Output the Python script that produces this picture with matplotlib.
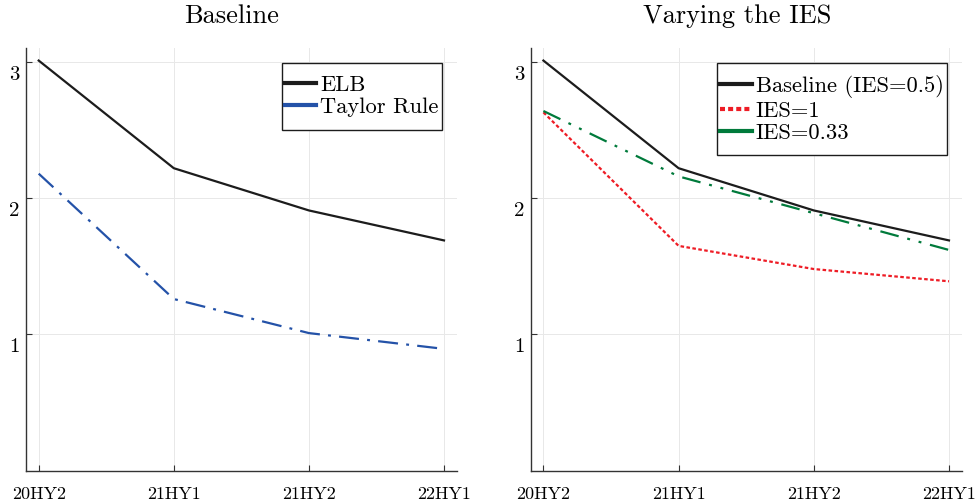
import matplotlib
matplotlib.use("Agg")
import matplotlib.pyplot as plt
import matplotlib.transforms as mtransforms
from matplotlib.lines import Line2D
from matplotlib.patches import Rectangle

plt.rcParams['font.family'] = ['cmr10', 'DejaVu Serif']
plt.rcParams['axes.formatter.use_mathtext'] = True
plt.rcParams['mathtext.fontset'] = 'cm'

periods = ["20HY2", "21HY1", "21HY2", "22HY1"]
elb = [3.01, 2.22, 1.91, 1.69]
taylor = [2.18, 1.26, 1.01, 0.894]
baseline_ies = [3.01, 2.22, 1.91, 1.69]
ies_1 = [2.63, 1.65, 1.48, 1.39]
ies_033 = [2.64, 2.16, 1.89, 1.62]
yticks = [1, 2, 3]

BLACK = "#1c1c1c"
BLUE = "#2452a8"
RED = "#ee1c25"
GREEN = "#007a3b"

fig = plt.figure(figsize=(9.76, 5.04), dpi=100)
W, H = 976, 504
def add_ax(l, r, t, b):
    return fig.add_axes([l / W, 1 - b / H, (r - l) / W, (b - t) / H])

ax1 = add_ax(26, 456.7, 48.3, 470.7)
ax2 = add_ax(530.7, 961.7, 48.3, 470.7)

x = list(range(1, len(periods) + 1))
DASHDOT = (9, 3.7, 1.3, 3.7)
DASHDOTDOT = (8.5, 4, 1.3, 4, 1.3, 4)

ax1.plot(x, elb, color=BLACK, lw=1.6)
ax1.plot(x, taylor, color=BLUE, lw=1.6, dashes=DASHDOT)

ax2.plot(x, baseline_ies, color=BLACK, lw=1.6)
ax2.plot(x, ies_1, color=RED, lw=1.6, dashes=(1.6, 1.1))
ax2.plot(x, ies_033, color=GREEN, lw=1.6, dashes=DASHDOTDOT)

def style(ax, title, title_x):
    ax.set_xlim(0.906, 4.094)
    ax.set_ylim(0, 3.1)
    ax.set_xticks(x)
    ax.set_xticklabels(periods, fontsize=13)
    ax.set_yticks(yticks)
    ax.set_yticklabels([str(v) for v in yticks], fontsize=15)
    ax.grid(True, color="#e8e8e8", lw=0.7)
    ax.set_axisbelow(True)
    for s in ["top", "right"]:
        ax.spines[s].set_visible(False)
    for s in ["left", "bottom"]:
        ax.spines[s].set_color("#333333")
        ax.spines[s].set_linewidth(1.0)
    ax.tick_params(axis='x', direction='in', length=4, width=0.8, color="#333333", pad=11.5)
    ax.tick_params(axis='y', direction='in', length=4, width=0.8, color="#333333", pad=4.5)
    off = mtransforms.ScaledTranslation(0, -4 / 100, fig.dpi_scale_trans)
    for lab in ax.get_yticklabels():
        lab.set_va('top')
        lab.set_transform(lab.get_transform() + off)
    ax.set_title(title, fontsize=19, x=title_x, pad=18)

style(ax1, "Baseline", 0.478)
style(ax2, "Varying the IES", 0.479)

def legend(ax, handles, labels, right_px, top_px, vextra):
    lg = ax.legend(handles, labels, loc='upper right',
                   bbox_to_anchor=(right_px / W, 1 - (top_px + vextra) / H),
                   bbox_transform=fig.transFigure, borderaxespad=0,
                   fontsize=16.2, frameon=False, handlelength=1.4,
                   handletextpad=0.17, borderpad=0.15, labelspacing=0.12)
    lg.set_zorder(6)
    fig.canvas.draw()
    bb = lg.get_window_extent()
    rect = Rectangle((bb.x0 / W, (bb.y0 - vextra) / H), bb.width / W,
                     (bb.height + 2 * vextra) / H, transform=fig.transFigure,
                     fill=True, facecolor='white', edgecolor=BLACK, lw=1.0,
                     zorder=5, clip_on=False)
    ax.add_patch(rect)
    return lg

legend(ax1,
       [Line2D([], [], color=BLACK, lw=3), Line2D([], [], color=BLUE, lw=3)],
       ["ELB", "Taylor Rule"], 442, 62.7, 9)
legend(ax2,
       [Line2D([], [], color=BLACK, lw=3),
        Line2D([], [], color=RED, lw=3, dashes=(1.2, 0.75)),
        Line2D([], [], color=GREEN, lw=3)],
       ["Baseline (IES=0.5)", "IES=1", "IES=0.33"], 947, 62.7, 9)

fig.savefig("out.png", dpi=100)
